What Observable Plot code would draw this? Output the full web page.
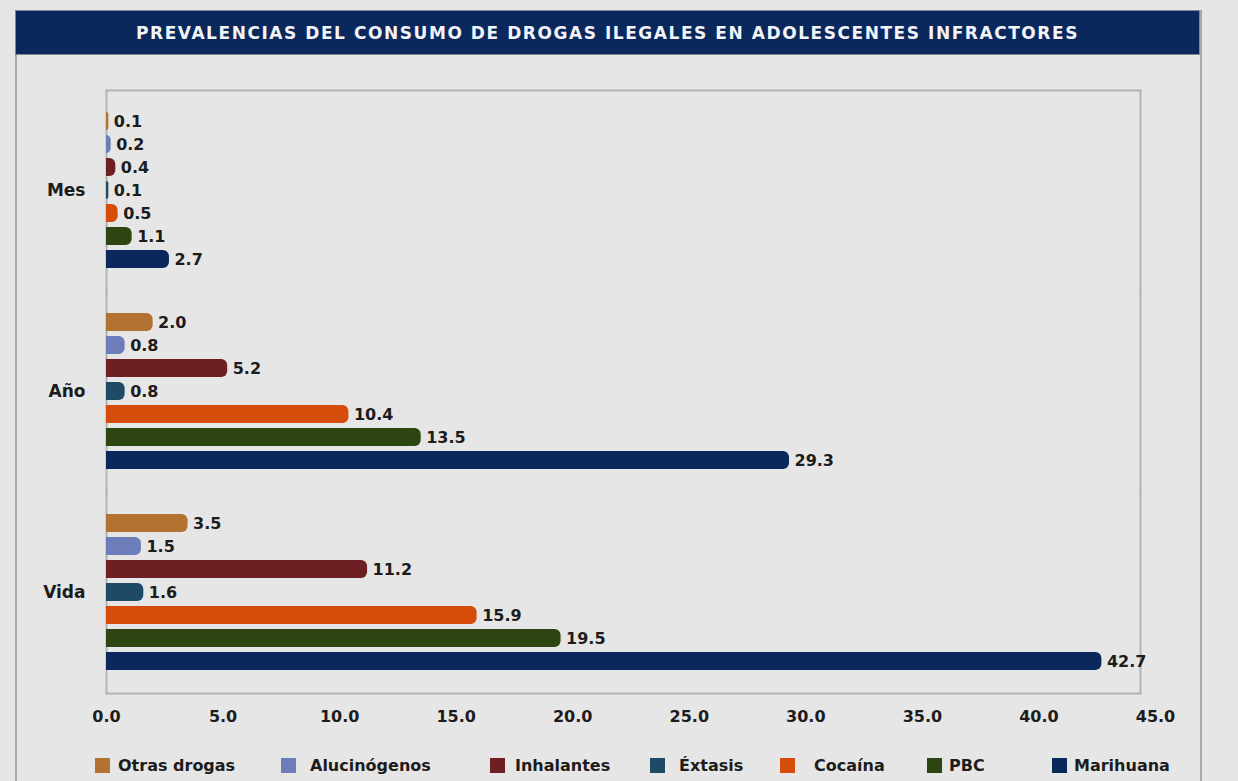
<!DOCTYPE html>
<html>
<head>
<meta charset="utf-8">
<script src="https://cdn.jsdelivr.net/npm/d3@7"></script>
<script src="https://cdn.jsdelivr.net/npm/@observablehq/plot@0.6"></script>
<style>
  html, body { margin: 0; padding: 0; background: #e6e6e6; }
  body { width: 1238px; height: 781px; position: relative; overflow: hidden; font-family: "DejaVu Sans", sans-serif; }
  #panel { position: absolute; left: 15px; top: 10px; width: 1183px; height: 790px; border-left: 2px solid #a9a9a9; border-right: 2px solid #a9a9a9; }
  #title { position: absolute; left: 15px; top: 10px; width: 1183px; height: 43px; background: #0a285c; border: 1px solid #7f8794; color: #f2f4f8; font-weight: bold; font-size: 17px; letter-spacing: 1.55px; text-align: center; line-height: 44px; }
  #chart { position: absolute; left: 0; top: 55px; }
  #legend { position: absolute; left: 0; top: 756px; width: 1238px; height: 20px; }
  .sw { position: absolute; top: 2px; width: 15px; height: 15px; }
  .lb { position: absolute; top: 0; font-size: 16px; font-weight: bold; color: #1c1c1c; line-height: 19px; white-space: nowrap; }
</style>
</head>
<body>
<div id="panel"></div>
<div id="title">PREVALENCIAS DEL CONSUMO DE DROGAS ILEGALES EN ADOLESCENTES INFRACTORES</div>
<div id="chart"></div>
<div id="legend"></div>
<script>
// ---- data ----
const periods = ["Mes", "Año", "Vida"];
const drugs = ["Otras drogas", "Alucinógenos", "Inhalantes", "Éxtasis", "Cocaína", "PBC", "Marihuana"];
const mesValues  = [0.1, 0.2, 0.4, 0.1, 0.5, 1.1, 2.7];
const anoValues  = [2.0, 0.8, 5.2, 0.8, 10.4, 13.5, 29.3];
const vidaValues = [3.5, 1.5, 11.2, 1.6, 15.9, 19.5, 42.7];
const xTicks = [0, 5, 10, 15, 20, 25, 30, 35, 40, 45];
const colors = ["#b27232", "#6c7db9", "#6d1f23", "#1f4a66", "#d54c0b", "#2c4511", "#0a285c"];

// legend layout (swatch left, label left)
const legendLayout = [[95, 118], [281, 310], [490, 515], [650, 679], [780, 814], [927, 949], [1052, 1074]];

const seriesByPeriod = {"Mes": mesValues, "Año": anoValues, "Vida": vidaValues};
const table = [];
for (const p of periods) {
  drugs.forEach((d, i) => table.push({period: p, drug: d, value: seriesByPeriod[p][i]}));
}

const chart = Plot.plot({
  width: 1238,
  height: 690,
  marginLeft: 106,
  marginRight: 98,
  marginTop: 34,
  marginBottom: 52,
  style: {background: "transparent", fontFamily: "DejaVu Sans, sans-serif", fontSize: "16px", fontWeight: "bold", color: "#1c1c1c"},
  x: {domain: [0, 45], range: [106, 1155]},
  y: {domain: drugs, paddingInner: 0.2, paddingOuter: 0.84, axis: null},
  fy: {domain: periods, padding: 0, label: null},
  color: {domain: drugs, range: colors},
  marks: [
    Plot.frame({anchor: "left", stroke: "#b3b3b3", strokeWidth: 2}),
    Plot.frame({anchor: "right", stroke: "#b3b3b3", strokeWidth: 2}),
    Plot.frame({anchor: "top", stroke: "#b3b3b3", strokeWidth: 2, facetAnchor: "top"}),
    Plot.frame({anchor: "bottom", stroke: "#b3b3b3", strokeWidth: 2, facetAnchor: "bottom"}),
    Plot.barX(table, {x: "value", y: "drug", fy: "period", fill: "drug", rx2: 6}),
    Plot.text(table, {x: "value", y: "drug", fy: "period", text: d => d.value.toFixed(1), textAnchor: "start", dx: 5, fill: "#1c1c1c", fontSize: 16, fontWeight: "bold"}),
    Plot.axisFy({anchor: "left", tickSize: 0, tickPadding: 21, fontSize: 17, fontWeight: "bold", label: null}),
    Plot.axisX({anchor: "bottom", ticks: xTicks, tickSize: 0, tickPadding: 17, tickFormat: d => d.toFixed(1), fontSize: 16, fontWeight: "bold", label: null})
  ]
});
document.getElementById("chart").appendChild(chart);

const legend = document.getElementById("legend");
drugs.forEach((d, i) => {
  const sw = document.createElement("div");
  sw.className = "sw";
  sw.style.left = legendLayout[i][0] + "px";
  sw.style.background = colors[i];
  legend.appendChild(sw);
  const lb = document.createElement("div");
  lb.className = "lb";
  lb.style.left = legendLayout[i][1] + "px";
  lb.textContent = d;
  legend.appendChild(lb);
});
</script>
</body>
</html>
